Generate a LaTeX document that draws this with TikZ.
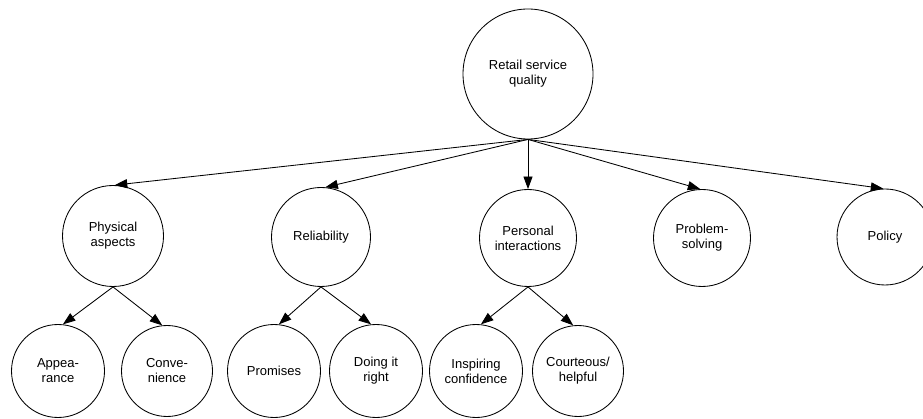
\documentclass[tikz,border=0pt]{standalone}
\usepackage{fontspec}
\setmainfont{Liberation Sans}
\usetikzlibrary{arrows.meta}

\tikzset{
  bubble/.style={draw, circle, line width=0.85pt, inner sep=0pt, align=center,
                 font=\fontsize{13}{15}\selectfont},
  link/.style={line width=0.85pt, -{Triangle[length=12.5pt,width=9pt]}}
}

\begin{document}
\begin{tikzpicture}[x=1pt, y=-1pt]
  \clip (0,0) rectangle (923,419);
  \fill[white] (0,0) rectangle (923,419);

  % root
  \node[bubble, minimum size=130pt] (root) at (528,74) {Retail service\\quality};

  % second level
  \node[bubble, minimum size=101pt] (phys) at (113,236) {Physical\\aspects};
  \node[bubble, minimum size=99pt]  (rel)  at (321,237) {Reliability};
  \node[bubble, minimum size=97pt]  (pers) at (528,238) {Personal\\interactions};
  \node[bubble, minimum size=97pt]  (prob) at (702,238) {Problem-\\solving};
  \node[bubble, minimum size=96pt]  (pol)  at (885,237) {Policy};

  % third level
  \node[bubble, minimum size=93pt] (app)  at (58,371)  {Appea-\\rance};
  \node[bubble, minimum size=91pt] (conv) at (167,371) {Conve-\\nience};
  \node[bubble, minimum size=93pt] (prom) at (274,371) {Promises};
  \node[bubble, minimum size=93pt] (doit) at (376,371) {Doing it\\right};
  \node[bubble, minimum size=93pt] (insp) at (476,371) {Inspiring\\confidence};
  \node[bubble, minimum size=91pt] (cour) at (578,371) {Courteous/\\helpful};

  % root to second level
  \draw[link] (root.south) -- (phys.88);
  \draw[link] (root.south) -- (rel.85);
  \draw[link] (root.south) -- (pers.north);
  \draw[link] (root.south) -- (prob.92);
  \draw[link] (root.south) -- (pol.92);

  % second to third level
  \draw[link] (phys.south) -- (app.84);
  \draw[link] (phys.south) -- (conv.96);
  \draw[link] (rel.south)  -- (prom.84);
  \draw[link] (rel.south)  -- (doit.96);
  \draw[link] (pers.south) -- (insp.84);
  \draw[link] (pers.south) -- (cour.96);
\end{tikzpicture}
\end{document}
